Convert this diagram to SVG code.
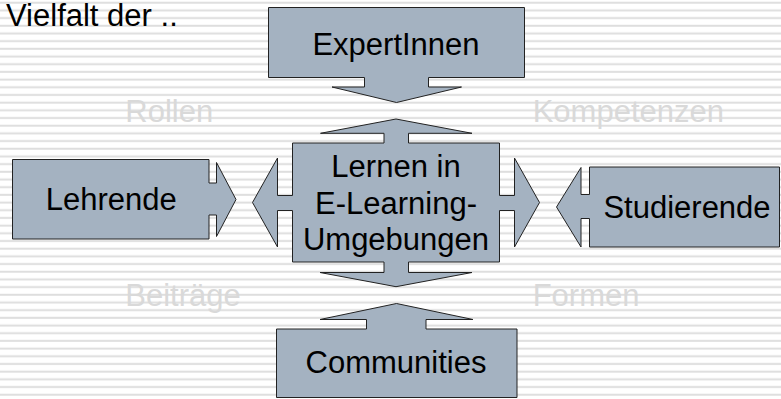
<svg xmlns="http://www.w3.org/2000/svg" width="781" height="399" viewBox="0 0 781 399">
<defs>
<pattern id="lines" patternUnits="userSpaceOnUse" x="0" y="0" width="781" height="7.686">
<rect x="0" y="1.7" width="781" height="2" fill="#dedede"/>
</pattern>
<style>
.shape{fill:#a4b2c1;stroke:#222;stroke-width:1;stroke-linejoin:miter}
.lbl{font-family:"Liberation Sans",Arial,sans-serif;font-size:31px;fill:#000}
.mid{text-anchor:middle}
.faint{font-family:"Liberation Sans",Arial,sans-serif;font-size:31px;fill:#d9d9d9}
</style>
</defs>
<rect width="781" height="399" fill="#fff"/>
<rect width="781" height="399" fill="url(#lines)"/>
<text class="lbl" x="6" y="26">Vielfalt der ..</text>
<g id="labels">
<text class="faint" x="125.3" y="121.7">Rollen</text>
<text class="faint" x="532.7" y="121.7">Kompetenzen</text>
<text class="faint" x="125.3" y="305.7">Beiträge</text>
<text class="faint" x="532.7" y="305.7">Formen</text>
</g>
<g id="connectors"></g>
<g id="expert">
<path class="shape" d="M268.5,7.5 H524.5 V77.5 H428.5 V87 H461.5 L396.5,102.5 L332,87 H364.5 V77.5 H268.5 Z"/>
<text class="lbl mid" x="396" y="55">ExpertInnen</text>
</g>
<g id="center">
<path class="shape" d="M292.5,143 H384 V133.3 H320.5 L396,119 L472,133.3 H408.5 V143 H499.5 V195.5 H514.5 V158 L539.5,202.5 L514.5,247 V210.5 H499.5 V262 H408.5 V272.5 H472 L396,286.7 L320,272.5 H384 V262 H292.5 V210.5 H277.5 V247 L252.5,202.5 L277.5,158 V195.5 H292.5 Z"/>
<text class="lbl mid" x="396" y="176.5">Lernen in</text>
<text class="lbl mid" x="396" y="213.5">E-Learning-</text>
<text class="lbl mid" x="396" y="250">Umgebungen</text>
</g>
<g id="lehrende">
<path class="shape" d="M12.5,159.5 H209 V183 H216.5 V162.5 L236,199.5 L216.5,236.5 V215 H209 V239 H12.5 Z"/>
<text class="lbl mid" x="111.3" y="210">Lehrende</text>
</g>
<g id="studierende">
<path class="shape" d="M589.5,167 H779.5 V247 H589.5 V218.5 H581 V247 L556.5,207 L581,167.5 V194.5 H589.5 Z"/>
<text class="lbl mid" x="687" y="218.3">Studierende</text>
</g>
<g id="communities">
<path class="shape" d="M276.5,329 H366.5 V319.5 H320 L396.5,303.5 L473,319.5 H426 V329 H517 V397.5 H276.5 Z"/>
<text class="lbl mid" x="396" y="372.7">Communities</text>
</g>
</svg>
